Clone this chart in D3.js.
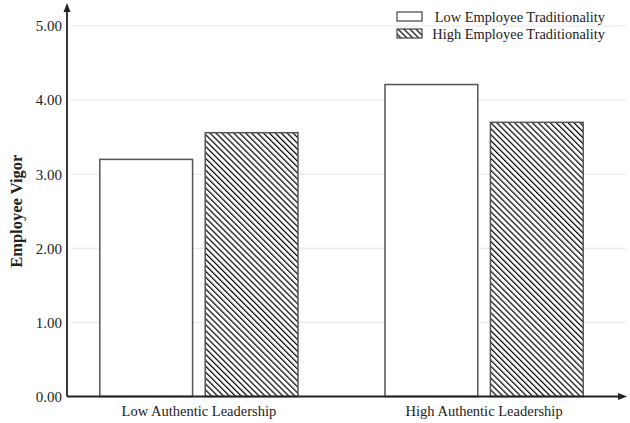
<!DOCTYPE html>
<html>
<head>
<meta charset="utf-8">
<script src="https://cdn.jsdelivr.net/npm/d3@7"></script>
<style>
  html, body { margin: 0; padding: 0; background: #fff; }
  svg { display: block; }
  text { font-family: "Liberation Serif", "Times New Roman", serif; fill: #222; }
</style>
</head>
<body>
<svg id="chart" width="630" height="423"></svg>
<script>
const categories = ["Low Authentic Leadership", "High Authentic Leadership"];
const seriesNames = ["Low Employee Traditionality", "High Employee Traditionality"];
const lowTradValues = [3.20, 4.21];
const highTradValues = [3.56, 3.70];
const yTicks = [0, 1, 2, 3, 4, 5];
const yTitle = "Employee Vigor";

const svg = d3.select("#chart");
const axisX = 67, axisY = 396.5, topY = 26;

const defs = svg.append("defs");
const pat = defs.append("pattern")
  .attr("id", "hatch")
  .attr("patternUnits", "userSpaceOnUse")
  .attr("width", 4.2).attr("height", 4.2)
  .attr("patternTransform", "rotate(-45)");
pat.append("rect").attr("width", 4.2).attr("height", 4.2).attr("fill", "#fff");
pat.append("line").attr("x1", 0).attr("y1", 0).attr("x2", 0).attr("y2", 4.2)
  .attr("stroke", "#000").attr("stroke-width", 2.4);

const y = d3.scaleLinear().domain([0, 5]).range([axisY, topY]);
const x0 = d3.scaleBand().domain(categories).range([axisX, 616])
  .paddingInner(0.305).paddingOuter(0.115);
const x1 = d3.scaleBand().domain(seriesNames).range([0, x0.bandwidth()])
  .paddingInner(0.12);

// gridlines
svg.append("g").selectAll("line").data(yTicks.filter(d => d > 0)).join("line")
  .attr("x1", axisX + 3).attr("x2", 626)
  .attr("y1", d => y(d)).attr("y2", d => y(d))
  .attr("stroke", "#e6e6e6").attr("stroke-width", 1);

// bars
const data = categories.map((c, i) => ({cat: c, vals: [
  {s: seriesNames[0], v: lowTradValues[i]},
  {s: seriesNames[1], v: highTradValues[i]}
]}));
const g = svg.append("g").selectAll("g").data(data).join("g")
  .attr("transform", d => `translate(${x0(d.cat)},0)`);
g.selectAll("rect").data(d => d.vals).join("rect")
  .attr("x", d => x1(d.s))
  .attr("width", x1.bandwidth())
  .attr("y", d => y(d.v))
  .attr("height", d => axisY - y(d.v))
  .attr("fill", (d, i) => i === 0 ? "#fff" : "url(#hatch)")
  .attr("stroke", "#555").attr("stroke-width", 1.5);

// y-axis
const yAxis = d3.axisLeft(y).tickValues(yTicks).tickSize(0).tickPadding(5)
  .tickFormat(d3.format(".2f"));
const ya = svg.append("g").attr("transform", `translate(${axisX},0)`).call(yAxis);
ya.select(".domain").remove();
ya.selectAll("text").attr("font-size", 15).attr("font-family", "Liberation Serif, serif").attr("fill", "#222");
svg.append("line").attr("x1", axisX).attr("x2", axisX).attr("y1", axisY).attr("y2", 9)
  .attr("stroke", "#222").attr("stroke-width", 1.8);
svg.append("path").attr("d", `M${axisX},3 L${axisX - 3.5},12 L${axisX + 3.5},12 Z`).attr("fill", "#222");

// x-axis
const xAxis = d3.axisBottom(x0).tickSize(0).tickPadding(9);
const xa = svg.append("g").attr("transform", `translate(0,${axisY})`).call(xAxis);
xa.select(".domain").remove();
xa.selectAll("text").attr("font-size", 14.5).attr("font-family", "Liberation Serif, serif").attr("fill", "#222");
svg.append("line").attr("x1", axisX).attr("x2", 620).attr("y1", axisY).attr("y2", axisY)
  .attr("stroke", "#222").attr("stroke-width", 1.8);
svg.append("path").attr("d", `M627,${axisY} L618,${axisY - 3.5} L618,${axisY + 3.5} Z`).attr("fill", "#222");

// y title
svg.append("text")
  .attr("transform", `translate(21.5,${(axisY + topY) / 2}) rotate(-90)`)
  .attr("text-anchor", "middle")
  .attr("font-size", 16.5).attr("font-weight", "bold")
  .text(yTitle);

// legend
const leg = svg.append("g").selectAll("g").data(seriesNames).join("g")
  .attr("transform", (d, i) => `translate(397,${12 + i * 17})`);
leg.append("rect").attr("width", 25).attr("height", 9)
  .attr("fill", (d, i) => i === 0 ? "#fff" : "url(#hatch)")
  .attr("stroke", "#444").attr("stroke-width", 1.2);
leg.append("text").attr("x", 208).attr("y", 9.5).attr("text-anchor", "end")
  .attr("font-size", 14.4).text(d => d);
</script>
</body>
</html>
